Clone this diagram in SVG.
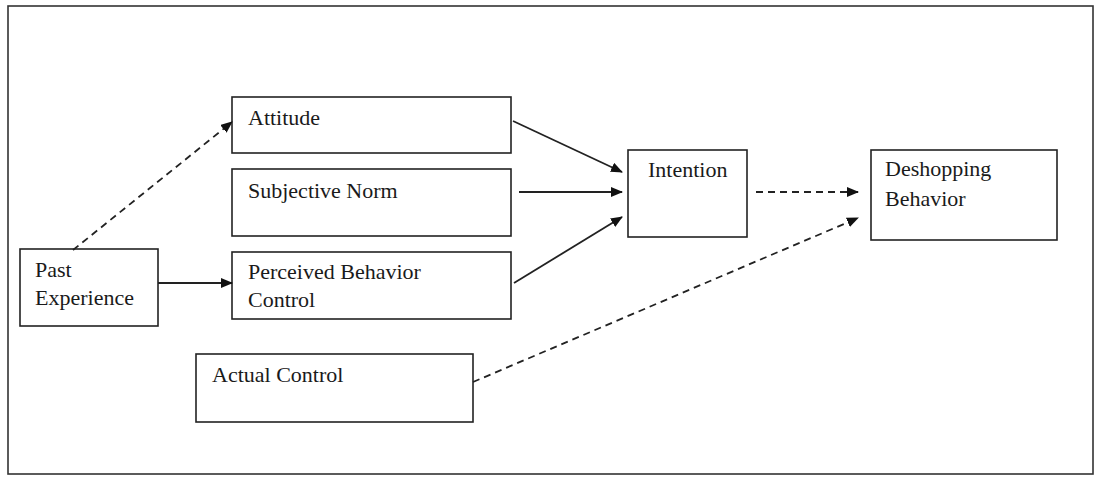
<svg xmlns="http://www.w3.org/2000/svg" width="1096" height="477" viewBox="0 0 1096 477">
  <style>
    .frame { fill: #fff; stroke: #333; stroke-width: 1.6; }
    .box { fill: #fff; stroke: #222; stroke-width: 1.6; }
    .lbl { font-family: "Liberation Serif", "Times New Roman", serif; font-size: 22px; fill: #1a1a1a; }
    .edge { fill: none; stroke: #222; stroke-width: 1.8; }
    .dash { stroke-dasharray: 7 5; }
  </style>
  <defs>
    <marker id="head" markerWidth="12" markerHeight="10" refX="11" refY="5" orient="auto" markerUnits="userSpaceOnUse">
      <path d="M0,0 L12,5 L0,10 Z" fill="#111"/>
    </marker>
  </defs>

  <rect width="1096" height="477" fill="#fff"/>
  <rect class="frame" x="8" y="6" width="1085" height="468"/>

  <g id="attitude">
    <rect class="box" x="232" y="97" width="279" height="56"/>
    <text class="lbl" x="248" y="125">Attitude</text>
  </g>
  <g id="subjective-norm">
    <rect class="box" x="232" y="169" width="279" height="67"/>
    <text class="lbl" x="248" y="198">Subjective Norm</text>
  </g>
  <g id="perceived-behavior-control">
    <rect class="box" x="232" y="252" width="279" height="67"/>
    <text class="lbl" x="248" y="279">Perceived Behavior</text>
    <text class="lbl" x="248" y="307">Control</text>
  </g>
  <g id="past-experience">
    <rect class="box" x="20" y="249" width="138" height="77"/>
    <text class="lbl" x="35" y="277">Past</text>
    <text class="lbl" x="35" y="305">Experience</text>
  </g>
  <g id="actual-control">
    <rect class="box" x="196" y="354" width="277" height="68"/>
    <text class="lbl" x="212" y="382">Actual Control</text>
  </g>
  <g id="intention">
    <rect class="box" x="628" y="150" width="119" height="87"/>
    <text class="lbl" x="648" y="177">Intention</text>
  </g>
  <g id="deshopping-behavior">
    <rect class="box" x="871" y="150" width="186" height="90"/>
    <text class="lbl" x="885" y="176">Deshopping</text>
    <text class="lbl" x="885" y="206">Behavior</text>
  </g>

  <g id="connectors">
    <line class="edge dash" x1="73" y1="250" x2="232" y2="122" marker-end="url(#head)"/>
    <line class="edge" x1="158" y1="283" x2="232" y2="283" marker-end="url(#head)"/>
    <line class="edge" x1="513" y1="121" x2="622" y2="172" marker-end="url(#head)"/>
    <line class="edge" x1="519" y1="192" x2="622" y2="192" marker-end="url(#head)"/>
    <line class="edge" x1="514" y1="283" x2="622" y2="217" marker-end="url(#head)"/>
    <line class="edge dash" x1="756" y1="192" x2="858" y2="192" marker-end="url(#head)"/>
    <line class="edge dash" x1="473" y1="382" x2="858" y2="218" marker-end="url(#head)"/>
  </g>
</svg>
